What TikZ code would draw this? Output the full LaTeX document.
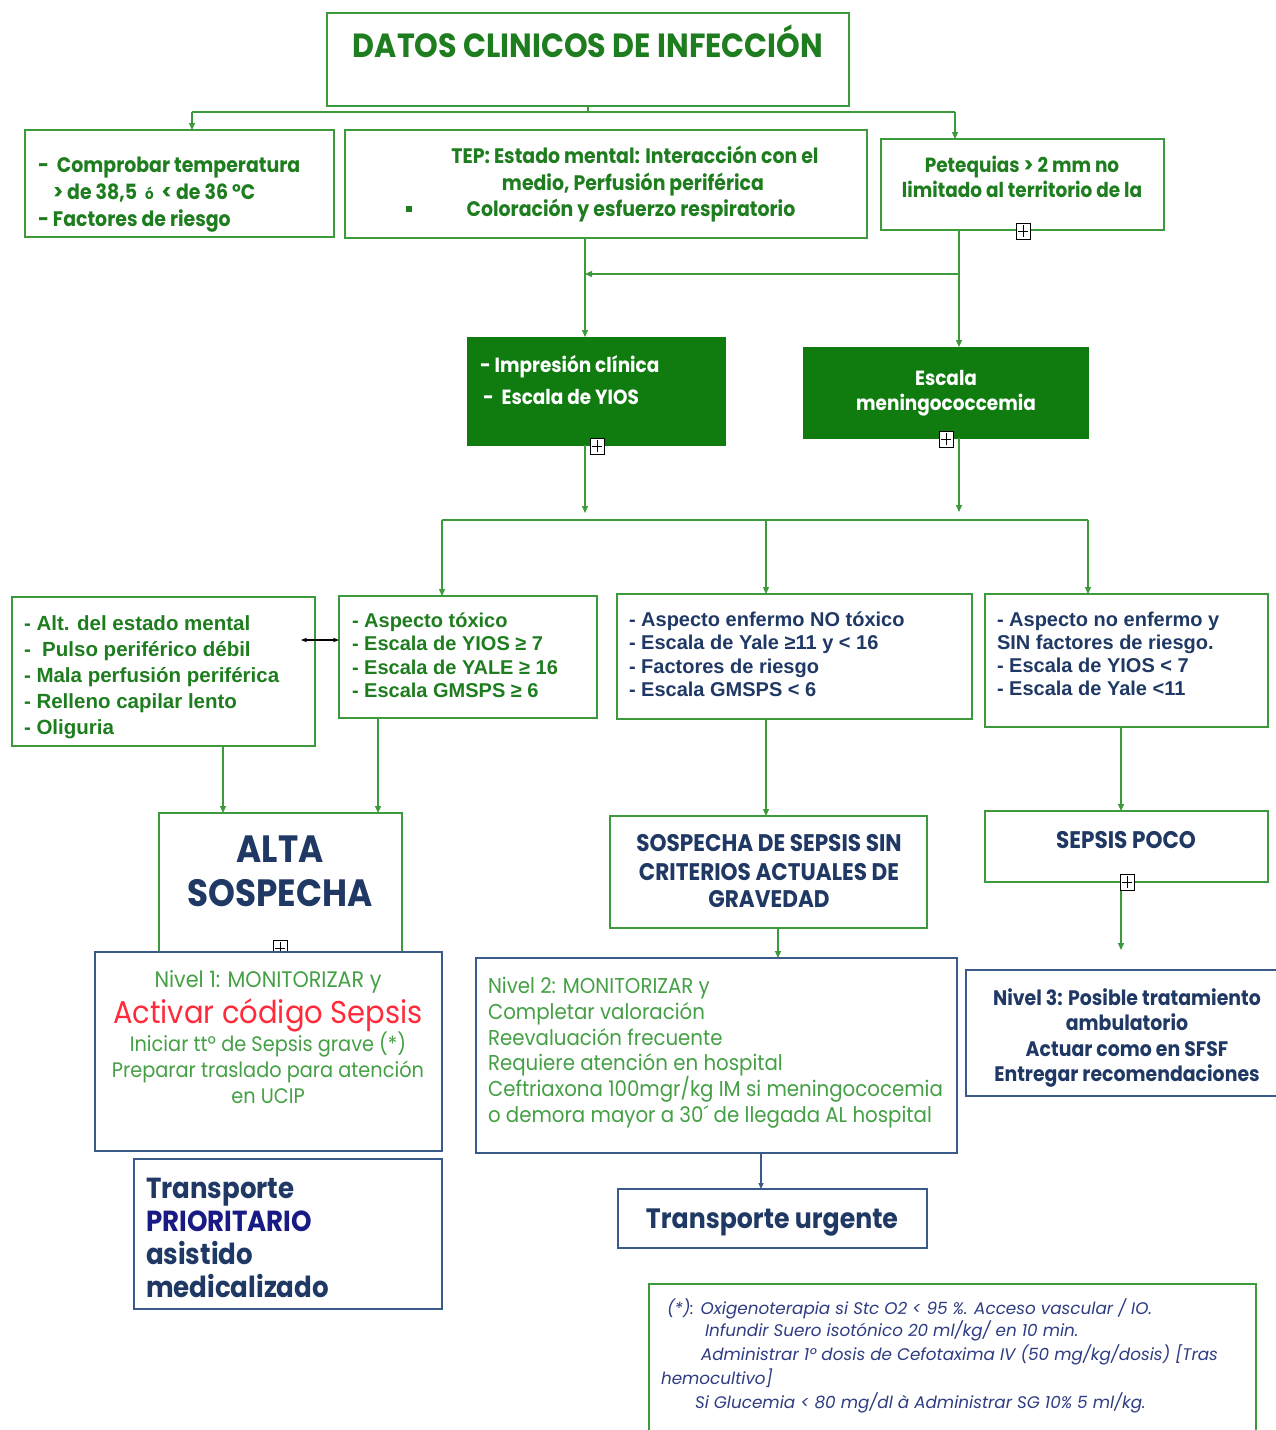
\documentclass[tikz,border=0pt]{standalone}
\usepackage{fontspec}
\setmainfont{Liberation Sans}
\newfontfamily\gothic[FakeStretch=0.9]{Poppins}
\newfontfamily\gothicwide[FakeStretch=0.92]{Poppins}
\newfontfamily\gothicplain{Poppins}
\usetikzlibrary{arrows.meta,calc}

\definecolor{gline}{HTML}{3C9A3C}
\definecolor{gtext}{HTML}{1E7D1E}
\definecolor{gfill}{HTML}{107C10}
\definecolor{ltgreen}{HTML}{45A045}
\definecolor{navy}{HTML}{1F3864}
\definecolor{nline}{HTML}{3A5A8A}
\definecolor{prio}{HTML}{1A1A85}
\definecolor{sred}{HTML}{FF2B3A}
\definecolor{fnote}{HTML}{2E3C82}

\newcommand\plusbox[1]{%
  \draw[black, fill=white, line width=0.9pt] ($(#1)+(-7,-8)$) rectangle ($(#1)+(7,8)$);
  \draw[black, line width=0.9pt] ($(#1)+(-5,0)$) -- ($(#1)+(5,0)$) ($(#1)+(0,-6)$) -- ($(#1)+(0,6)$);}

% text lines are placed by the middle of their capitals
\tikzset{
  gbox/.style={draw=gline, line width=1.5pt, fill=white, inner sep=0pt, outer sep=0pt, anchor=north west},
  nbox/.style={draw=nline, line width=1.5pt, fill=white, inner sep=0pt, outer sep=0pt, anchor=north west},
  sbox/.style={draw=gfill, fill=gfill, inner sep=0pt, outer sep=0pt, anchor=north west},
  lineL/.style={inner sep=0pt, outer sep=0pt, anchor=base west},
  lineC/.style={inner sep=0pt, outer sep=0pt, anchor=base},
  fBold/.style={font=\gothic\bfseries\fontsize{#1}{#1}\selectfont, yshift={-0.35*#1}},
  fReg/.style={font=\gothicwide\fontsize{#1}{#1}\selectfont, yshift={-0.35*#1}},
  fIt/.style={font=\gothicplain\itshape\fontsize{#1}{#1}\selectfont, yshift={-0.35*#1}},
  fArial/.style={font=\bfseries\fontsize{#1}{#1}\selectfont, yshift={-0.36*#1}},
  wire/.style={draw=gline, line width=1.3pt},
  conn/.style={wire, -{Triangle[length=7pt,width=6pt]}},
  nconn/.style={draw=nline, line width=1.3pt, -{Triangle[length=6pt,width=5pt]}},
}

\begin{document}
\begin{tikzpicture}[x=1pt, y=-1pt]
\useasboundingbox (0,0) rectangle (1275,1430);
\fill[white] (0,0) rectangle (1275,1430);

% ---------- top row ----------
\node[gbox, minimum width=522pt, minimum height=93pt] (title) at (327,13) {};
\node[lineC, fBold=33.5, text=gtext] (titleT) at (588,46) {DATOS CLINICOS DE INFECCIÓN};

\node[gbox, minimum width=309pt, minimum height=107pt] (temp) at (25,130) {};
\node[lineL, fBold=21, text=gtext] (temp-1) at (38,165) {-\ \ Comprobar temperatura};
\node[lineL, fBold=21, text=gtext] (temp-2) at (53,192) {> de 38,5 \ {\fontsize{15}{15}\selectfont ó} \ < de 36 °C};
\node[lineL, fBold=21, text=gtext] (temp-3) at (38,219) {- Factores de riesgo};

\node[gbox, minimum width=522pt, minimum height=108pt] (tep) at (345,130) {};
\node[lineC, fBold=21, text=gtext] (tep-1) at (635,156) {TEP: Estado mental: Interacción con el};
\node[lineC, fBold=21, text=gtext] (tep-2) at (633,183) {medio, Perfusión periférica};
\node[lineC, fBold=21, text=gtext] (tep-3) at (631,209) {Coloración y esfuerzo respiratorio};
\node[fill=gtext, inner sep=0pt, minimum size=6pt] (tepbullet) at (409,209) {};

\node[gbox, minimum width=283pt, minimum height=91pt] (pete) at (881,139) {};
\node[lineC, fBold=20.5, text=gtext] (pete-1) at (1022,165) {Petequias > 2 mm no};
\node[lineC, fBold=20.5, text=gtext] (pete-2) at (1022,190) {limitado al territorio de la};

% title fan-out
\coordinate (tsplit) at (588,112);
\coordinate (barL) at (192,112);
\coordinate (barR) at (955,112);
\draw[wire] (title.south) -- (tsplit);
\draw[wire] (barL) -- (barR);
\draw[conn] (barL) -- (temp.north -| barL);
\draw[conn] (barR) -- (pete.north -| barR);

% ---------- green boxes ----------
\node[sbox, minimum width=258pt, minimum height=108pt] (impr) at (467,337) {};
\node[lineL, fBold=20.5, text=white] (impr-1) at (480,365) {- Impresión clínica};
\node[lineL, fBold=20.5, text=white] (impr-2) at (483,397) {-\ \ Escala de YIOS};

\node[sbox, minimum width=285pt, minimum height=91pt] (meni) at (803,347) {};
\node[lineC, fBold=20.5, text=white] (meni-1) at (946,378) {Escala};
\node[lineC, fBold=20.5, text=white] (meni-2) at (946,403) {meningococcemia};

\coordinate (colD) at (585,0);
\coordinate (colE) at (959,0);
\coordinate (mergeR) at (959,274);
\coordinate (mergeL) at (585,274);
\draw[conn] (tep.south -| colD) -- (impr.north -| colD);
\draw[conn] (pete.south -| colE) -- (meni.north -| colE);
\draw[conn] (mergeR) -- (mergeL);

\plusbox{1023,231}
\plusbox{597,446}
\plusbox{946,439}

% ---------- distribution bar ----------
\coordinate (barD) at (585,513);
\coordinate (barE) at (959,512);
\coordinate (bar1) at (442,520);
\coordinate (bar2) at (766,520);
\coordinate (bar3) at (1088,520);
\draw[conn] (impr.south -| colD) -- (barD);
\draw[conn] (meni.south -| colE) -- (barE);
\draw[wire] (bar1) -- (bar3);

% ---------- criteria row ----------
\node[gbox, minimum width=303pt, minimum height=149pt] (signs) at (12,597) {};
\foreach \t [count=\i] in {{- Alt. del estado mental},{-\ \ Pulso periférico débil},{- Mala perfusión periférica},{- Relleno capilar lento},{- Oliguria}}
  \node[lineL, fArial=20.5, text=gtext] (signs-\i) at (24,{623+(\i-1)*26}) {\t};

\node[gbox, minimum width=258pt, minimum height=122pt] (toxic) at (339,596) {};
\foreach \t [count=\i] in {{- Aspecto tóxico},{- Escala de YIOS ≥ 7},{- Escala de YALE ≥ 16},{- Escala GMSPS ≥ 6}}
  \node[lineL, fArial=20, text=gtext] (toxic-\i) at (352,{620+(\i-1)*23.4}) {\t};

\node[gbox, minimum width=355pt, minimum height=125pt] (sick) at (617,594) {};
\foreach \t [count=\i] in {{- Aspecto enfermo NO tóxico},{- Escala de Yale ≥11 y < 16},{- Factores de riesgo},{- Escala GMSPS < 6}}
  \node[lineL, fArial=20, text=navy] (sick-\i) at (629,{619+(\i-1)*23.4}) {\t};

\node[gbox, minimum width=283pt, minimum height=133pt] (well) at (985,594) {};
\foreach \t [count=\i] in {{- Aspecto no enfermo y},{SIN factores de riesgo.},{- Escala de YIOS < 7},{- Escala de Yale <11}}
  \node[lineL, fArial=20, text=navy] (well-\i) at (997,{619+(\i-1)*23}) {\t};

\draw[conn] (bar1) -- (toxic.north -| bar1);
\draw[conn] (bar2) -- (sick.north -| bar2);
\draw[conn] (bar3) -- (well.north -| bar3);

\coordinate (linkY) at (0,640);
\draw[black, line width=1.2pt, {Stealth[length=6pt]}-{Stealth[length=6pt]}]
  ($(signs.east |- linkY)+(-14,0)$) -- (toxic.west |- linkY);

% ---------- outcome row ----------
\node[gbox, minimum width=243pt, minimum height=150pt] (alta) at (159,813) {};
\node[lineC, fBold=38, text=navy] (alta-1) at (280,849) {ALTA};
\node[lineC, fBold=38, text=navy] (alta-2) at (280,893) {SOSPECHA};
\plusbox{280,948}

\node[gbox, minimum width=317pt, minimum height=112pt] (sosp) at (610,816) {};
\node[lineC, fBold=24, text=navy] (sosp-1) at (769,843) {SOSPECHA DE SEPSIS SIN};
\node[lineC, fBold=24, text=navy] (sosp-2) at (769,872) {CRITERIOS ACTUALES DE};
\node[lineC, fBold=24, text=navy] (sosp-3) at (769,899) {GRAVEDAD};

\node[gbox, minimum width=283pt, minimum height=71pt] (poco) at (985,811) {};
\node[lineC, fBold=24, text=navy] (poco-1) at (1126,840) {SEPSIS POCO};

\coordinate (colSigns) at (223,0);
\coordinate (colToxic) at (378,0);
\coordinate (colSick) at (766,0);
\coordinate (colWell) at (1121,0);
\draw[conn] (signs.south -| colSigns) -- (alta.north -| colSigns);
\draw[conn] (toxic.south -| colToxic) -- (alta.north -| colToxic);
\draw[conn] (sick.south -| colSick) -- (sosp.north -| colSick);
\draw[conn] (well.south -| colWell) -- (poco.north -| colWell);

% ---------- action levels ----------
\node[nbox, minimum width=347pt, minimum height=199pt] (lvl1) at (95,952) {};
\node[lineC, fReg=22.5, text=ltgreen] (lvl1-1) at (268,980) {Nivel 1: MONITORIZAR y};
\node[lineC, fReg=31.5, text=sred] (lvl1-2) at (268,1012) {Activar código Sepsis};
\node[lineC, fReg=21, text=ltgreen] (lvl1-3) at (268,1044) {Iniciar ttº de Sepsis grave (*)};
\node[lineC, fReg=21, text=ltgreen] (lvl1-4) at (268,1070) {Preparar traslado para atención};
\node[lineC, fReg=21, text=ltgreen] (lvl1-5) at (268,1096) {en UCIP};

\node[nbox, minimum width=308pt, minimum height=150pt] (prior) at (134,1159) {};
\node[lineL, fBold=29, text=navy] (prior-1) at (146,1188) {Transporte};
\node[lineL, fBold=29, text=prio] (prior-2) at (146,1221) {PRIORITARIO};
\node[lineL, fBold=29, text=navy] (prior-3) at (146,1254) {asistido};
\node[lineL, fBold=29, text=navy] (prior-4) at (146,1287) {medicalizado};

\node[nbox, minimum width=481pt, minimum height=195pt] (lvl2) at (476,958) {};
\foreach \t [count=\i] in {{Nivel 2: MONITORIZAR y},{Completar valoración},{Reevaluación frecuente},{Requiere atención en hospital},{Ceftriaxona 100mgr/kg IM si meningococemia},{o demora mayor a 30´ de llegada AL hospital}}
  \node[lineL, fReg=21.5, text=ltgreen] (lvl2-\i) at (488,{986+(\i-1)*25.8}) {\t};

\node[nbox, minimum width=309pt, minimum height=59pt] (urg) at (618,1189) {};
\node[lineC, fBold=28, text=navy] (urg-1) at (772,1219) {Transporte urgente};

\node[nbox, minimum width=320pt, minimum height=126pt] (lvl3) at (966,970) {};
\node[lineC, fBold=21, text=navy] (lvl3-1) at (1127,998) {Nivel 3: Posible tratamiento};
\node[lineC, fBold=21, text=navy] (lvl3-2) at (1127,1023) {ambulatorio};
\node[lineC, fBold=21, text=navy] (lvl3-3) at (1127,1049) {Actuar como en SFSF};
\node[lineC, fBold=21, text=navy] (lvl3-4) at (1127,1074) {Entregar recomendaciones};

\coordinate (colSosp) at (778,0);
\coordinate (colLvl2) at (761,0);
\draw[conn] (sosp.south -| colSosp) -- (lvl2.north -| colSosp);
\draw[nconn] (lvl2.south -| colLvl2) -- (urg.north -| colLvl2);
\draw[conn, shorten >=20pt] (poco.south -| colWell) -- (lvl3.north -| colWell);
\plusbox{1127,882}

% ---------- footnote ----------
\node[gbox, minimum width=607pt, minimum height=170pt] (note) at (649,1284) {};
\node[lineL, fIt=16.8, text=fnote] (note-1) at (667,1309) {(*): Oxigenoterapia si Stc O2 < 95 \%. Acceso vascular / IO.};
\node[lineL, fIt=16.8, text=fnote] (note-2) at (705,1331) {Infundir Suero isotónico 20 ml/kg/ en 10 min.};
\node[lineL, fIt=16.8, text=fnote] (note-3) at (701,1355) {Administrar 1º dosis de Cefotaxima IV (50 mg/kg/dosis) [Tras};
\node[lineL, fIt=16.8, text=fnote] (note-4) at (661,1379) {hemocultivo]};
\node[lineL, fIt=16.8, text=fnote] (note-5) at (695,1403) {Si Glucemia < 80 mg/dl à Administrar SG 10\% 5 ml/kg.};
\end{tikzpicture}
\end{document}
